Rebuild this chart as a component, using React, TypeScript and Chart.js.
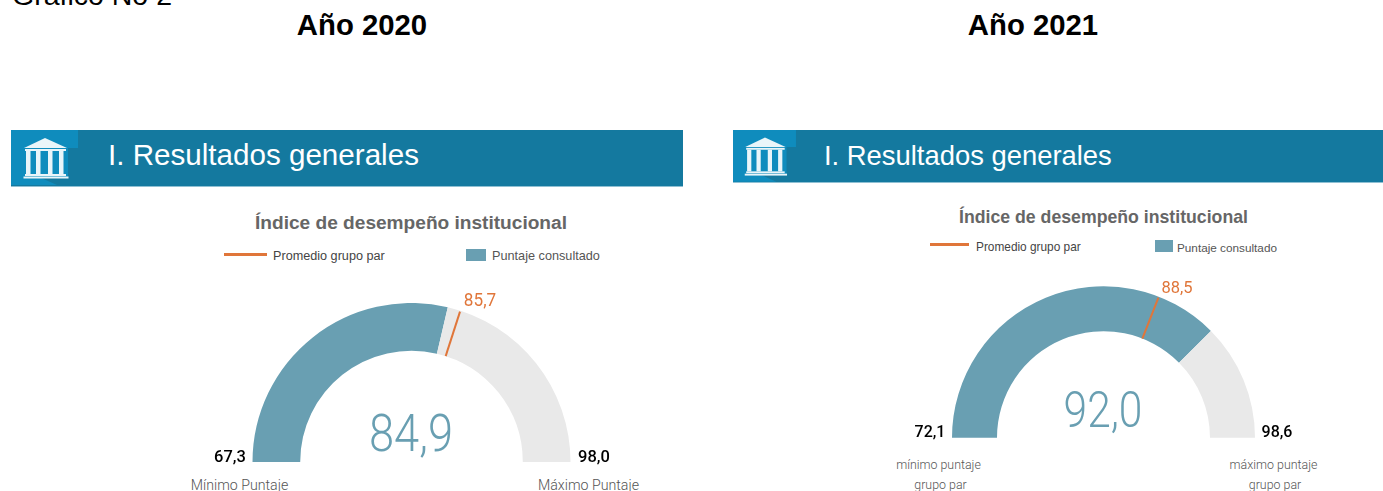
import React, { useEffect, useRef } from "react";
import { Chart, registerables } from "chart.js";

Chart.register(...registerables);

const years = ["Año 2020", "Año 2021"];
const minimums = [67.3, 72.1];
const maximums = [98.0, 98.6];
const scores = [84.9, 92.0];
const peerAverages = [85.7, 88.5];
const minLabels = [["Mínimo Puntaje"], ["mínimo puntaje", "grupo par"]];
const maxLabels = [["Máximo Puntaje"], ["máximo puntaje", "grupo par"]];
const sectionTitle = "I. Resultados generales";
const chartTitle = "Índice de desempeño institucional";
const legendLine = "Promedio grupo par";
const legendBox = "Puntaje consultado";
const caption = "Gráfico No 2";

const TEAL = "#699fb2";
const GREY = "#e9e9e9";
const ORANGE = "#e0763a";
const BAR = "#14799f";
const SANS = '"Liberation Sans", Arial, sans-serif';
const THIN = 'Roboto, "Noto Sans", sans-serif';

const fmt = (v: number) => v.toFixed(1).replace(".", ",");

type TProps = {
  x: number; y: number; size: number; color?: string; weight?: number; font?: string;
  sx?: number; children: React.ReactNode;
};
function T({ x, y, size, color = "#000", weight = 400, font = SANS, sx = 1, children }: TProps) {
  return (
    <div
      style={{
        position: "absolute", left: x, top: y, fontSize: size, color, fontWeight: weight, fontFamily: font,
        whiteSpace: "nowrap", lineHeight: 1, transform: `translate(-50%,-50%) scaleX(${sx})`,
      }}
    >
      {children}
    </div>
  );
}

function L({ x, y, size, color = "#444", children }: { x: number; y: number; size: number; color?: string; children: React.ReactNode }) {
  return (
    <div style={{ position: "absolute", left: x, top: y, fontSize: size, fontFamily: SANS, color, lineHeight: 1, transform: "translateY(-50%)", whiteSpace: "nowrap" }}>
      {children}
    </div>
  );
}

const targetLine = {
  id: "targetLine",
  afterDatasetsDraw(chart: any, _a: any, opts: any) {
    const arc = chart.getDatasetMeta(0).data[0];
    if (!arc) return;
    const { x, y, innerRadius, outerRadius } = arc.getProps(["x", "y", "innerRadius", "outerRadius"], true);
    const angle = Math.PI + Math.PI * ((opts.value - opts.min) / (opts.max - opts.min));
    const c = Math.cos(angle), s = Math.sin(angle);
    const ctx = chart.ctx;
    ctx.save();
    ctx.strokeStyle = ORANGE;
    ctx.lineWidth = 2;
    ctx.beginPath();
    ctx.moveTo(x + c * innerRadius, y + s * innerRadius);
    ctx.lineTo(x + c * (outerRadius - 1), y + s * (outerRadius - 1));
    ctx.stroke();
    ctx.restore();
  },
};

function Gauge({ i, left, top, width, height, cutout }: { i: number; left: number; top: number; width: number; height: number; cutout: string }) {
  const ref = useRef<HTMLCanvasElement>(null);
  useEffect(() => {
    const chart = new Chart(ref.current!, {
      type: "doughnut",
      data: {
        labels: [legendBox, "Resto"],
        datasets: [{
          data: [scores[i] - minimums[i], maximums[i] - scores[i]],
          backgroundColor: [TEAL, GREY],
          borderWidth: 0,
        }],
      },
      options: {
        animation: false,
        responsive: false,
        maintainAspectRatio: false,
        rotation: -90,
        circumference: 180,
        cutout,
        layout: { padding: 0 },
        plugins: {
          legend: { display: false },
          tooltip: { enabled: false },
          targetLine: { value: peerAverages[i], min: minimums[i], max: maximums[i] },
        } as any,
      },
      plugins: [targetLine],
    });
    return () => chart.destroy();
  }, []);
  return <canvas ref={ref} width={width} height={height} style={{ position: "absolute", left, top, width, height }} />;
}

function Icon({ x, y, s }: { x: number; y: number; s: number }) {
  return (
    <svg style={{ position: "absolute", left: x, top: y }} width={67 * s} height={55 * s} viewBox="0 0 67 55">
      <path d="M0 0H67V18H57V47H28L46 55H0Z" fill="#0f8cbd" />
      <g fill="#eaf5f9">
        <path d="M34 8L56 18H13Z" />
        <rect x="14" y="19" width="41" height="2" />
        <rect x="15" y="21" width="4.5" height="23" />
        <rect x="25" y="21" width="4.5" height="23" />
        <rect x="37" y="21" width="4.5" height="23" />
        <rect x="48" y="21" width="4.5" height="23" />
        <rect x="14" y="44" width="41" height="2" />
        <rect x="12.5" y="46.5" width="45" height="2" />
      </g>
    </svg>
  );
}

export default function App() {
  return (
    <div style={{ position: "absolute", left: 0, top: 0, width: 1383, height: 491, overflow: "hidden", background: "#fff" }}>
      <div style={{ position: "absolute", left: 12, top: -19, fontSize: 28.5, fontFamily: SANS, color: "#000", lineHeight: 1, whiteSpace: "nowrap" }}>{caption}</div>
      <T x={362} y={25} size={29.3} weight={700}>{years[0]}</T>
      <T x={1033} y={25} size={29.3} weight={700}>{years[1]}</T>

      {/* Panel 2020 */}
      <div style={{ position: "absolute", left: 11, top: 130, width: 672, height: 57, background: BAR, borderBottom: "1px solid #8fc0d3", boxSizing: "border-box" }} />
      <Icon x={11} y={130} s={1} />
      <L x={108} y={155} size={29.6} color="#fff">{sectionTitle}</L>
      <T x={411} y={223} size={19.1} weight={700} color="#666">{chartTitle}</T>
      <div style={{ position: "absolute", left: 224, top: 253, width: 43, height: 2.5, background: ORANGE }} />
      <L x={273} y={255.5} size={12.65}>{legendLine}</L>
      <div style={{ position: "absolute", left: 466, top: 249, width: 20, height: 12, background: TEAL }} />
      <L x={492} y={255.5} size={12.7} color="#555">{legendBox}</L>
      <Gauge i={0} left={252} top={303} width={319} height={159} cutout="70%" />
      <T x={411} y={434} size={52} weight={300} font={THIN} color={TEAL} sx={0.87}>{fmt(scores[0])}</T>
      <T x={480} y={301} size={17.5} color={ORANGE} font={THIN} sx={0.98}>{fmt(peerAverages[0])}</T>
      <T x={229.5} y={456} size={17} weight={500} font={THIN} sx={0.97}>{fmt(minimums[0])}</T>
      <T x={594} y={456} size={17} weight={500} font={THIN} sx={0.97}>{fmt(maximums[0])}</T>
      <T x={239.5} y={485} size={14.2} weight={300} font={THIN} color="#555">{minLabels[0][0]}</T>
      <T x={588.5} y={485} size={14.2} weight={300} font={THIN} color="#555">{maxLabels[0][0]}</T>

      {/* Panel 2021 */}
      <div style={{ position: "absolute", left: 733, top: 130, width: 650, height: 53, background: BAR, borderBottom: "1px solid #8fc0d3", boxSizing: "border-box" }} />
      <Icon x={733} y={130} s={0.94} />
      <L x={824} y={155.5} size={27.4} color="#fff">{sectionTitle}</L>
      <T x={1103.5} y={218} size={17.7} weight={700} color="#666">{chartTitle}</T>
      <div style={{ position: "absolute", left: 930, top: 243, width: 39, height: 2.5, background: ORANGE }} />
      <L x={976} y={247.5} size={11.85}>{legendLine}</L>
      <div style={{ position: "absolute", left: 1155, top: 240, width: 18, height: 12, background: TEAL }} />
      <L x={1177} y={247.5} size={11.75} color="#555">{legendBox}</L>
      <Gauge i={1} left={952} top={286} width={303} height={152} cutout="70.3%" />
      <T x={1103} y={410} size={50} weight={300} font={THIN} color={TEAL} sx={0.85}>{fmt(scores[1])}</T>
      <T x={1177} y={287} size={17} color={ORANGE} font={THIN} sx={0.97}>{fmt(peerAverages[1])}</T>
      <T x={930} y={432} size={16.5} weight={500} font={THIN} sx={0.97}>{fmt(minimums[1])}</T>
      <T x={1276.5} y={432} size={16.5} weight={500} font={THIN} sx={0.97}>{fmt(maximums[1])}</T>
      <T x={938.5} y={465} size={12.4} weight={300} font={THIN} color="#555">{minLabels[1][0]}</T>
      <T x={940.5} y={485} size={12.4} weight={300} font={THIN} color="#555">{minLabels[1][1]}</T>
      <T x={1273.5} y={465} size={12.4} weight={300} font={THIN} color="#555">{maxLabels[1][0]}</T>
      <T x={1275} y={485} size={12.4} weight={300} font={THIN} color="#555">{maxLabels[1][1]}</T>
    </div>
  );
}
